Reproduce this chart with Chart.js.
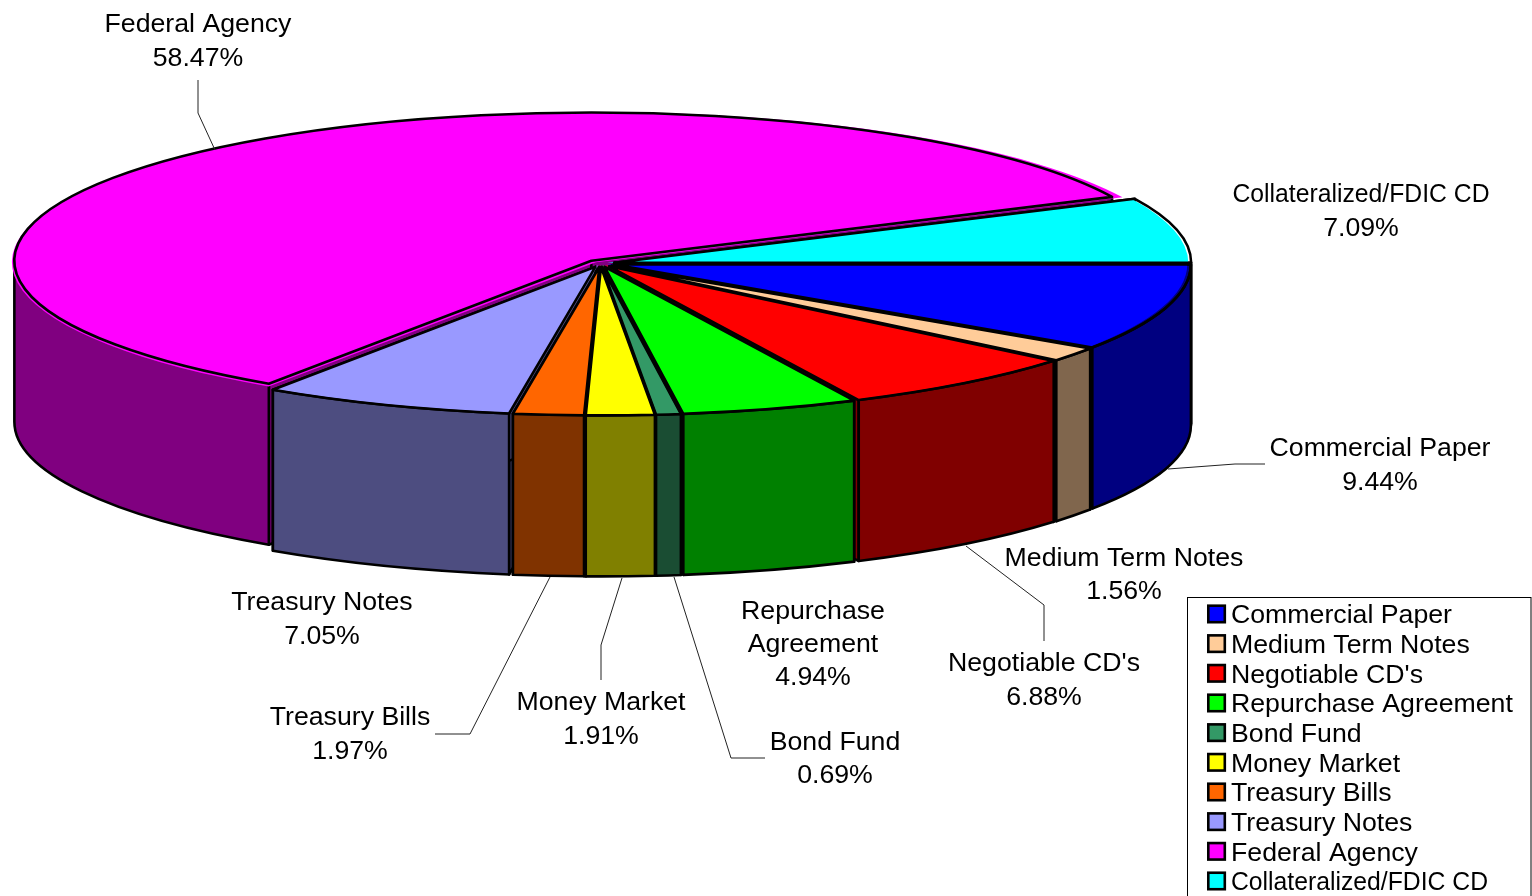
<!DOCTYPE html>
<html>
<head>
<meta charset="utf-8">
<style>html,body{margin:0;padding:0;background:#fff;overflow:hidden}canvas{display:block}</style>
<script src="https://cdn.jsdelivr.net/npm/chart.js@4/dist/chart.umd.min.js"></script>
</head>
<body>
<canvas id="c" width="1532" height="896"></canvas>
<script>
const categories = ["Commercial Paper","Medium Term Notes","Negotiable CD's","Repurchase Agreement","Bond Fund","Money Market","Treasury Bills","Treasury Notes","Federal Agency","Collateralized/FDIC CD"];
const shares = [9.44,1.56,6.88,4.94,0.69,1.91,1.97,7.05,58.47,7.09];
const topColors = ["#0000ff","#ffcc99","#ff0000","#00ff00","#339966","#ffff00","#ff6600","#9999ff","#ff00ff","#00ffff"];
const wallColors = ["#000080","#80664d","#800000","#008000","#1a4d33","#808000","#803300","#4d4d80","#800080","#008080"];

// Label block for each category: text lines, centre x, and y of each line.
const labelLines = [["Commercial Paper"],["Medium Term Notes"],["Negotiable CD's"],["Repurchase","Agreement"],["Bond Fund"],["Money Market"],["Treasury Bills"],["Treasury Notes"],["Federal Agency"],["Collateralized/FDIC CD"]];
const labelX = [1380,1124,1044,813,835,601,350,322,198,1361];
const labelY = [[447,481],[557,590],[662,696],[610,643,676],[741,774],[701,735],[716,750],[601,635],[23,57],[193,227]];
const leaders = [
  [[1168,469],[1235,464],[1265,464]],
  [[966,546],[1044,605],[1044,641]],
  [[674,577],[731,758],[765,758]],
  [[622,578],[601,645],[601,680]],
  [[550,577],[470,734],[435,734]],
  [[198,80],[198,113],[215,150]]
];

const SQUASH = 0.257, DEPTH = 161, EXPLODE = 14, RADIUS = 577;
const TEXT_FONT = '26.7px "Liberation Sans", Arial, sans-serif';
const TEXT_NUDGE = 2, LONG_LABEL_WIDTH = 257;

function geom(el){
  const mid = (el.startAngle + el.endAngle) / 2;
  return {
    x: el.x + Math.cos(mid) * EXPLODE,
    y: el.y + Math.sin(mid) * EXPLODE * SQUASH,
    a0: el.startAngle, a1: el.endAngle, r: el.outerRadius, mid
  };
}

const pie3d = {
  id: 'pie3d',
  beforeDatasetsDraw(chart){
    const ctx = chart.ctx, arcs = chart.getDatasetMeta(0).data;
    const order = arcs.map((el,i)=>i).sort((a,b)=>Math.sin(geom(arcs[a]).mid)-Math.sin(geom(arcs[b]).mid));
    ctx.save();
    ctx.strokeStyle = '#000'; ctx.lineWidth = 2.6; ctx.lineJoin = 'round';
    // cut faces
    order.forEach(i=>{
      const g = geom(arcs[i]);
      [g.a0,g.a1].forEach(a=>{
        const rx = g.x + Math.cos(a)*g.r, ry = g.y + Math.sin(a)*g.r*SQUASH;
        ctx.beginPath();
        ctx.moveTo(g.x,g.y); ctx.lineTo(rx,ry); ctx.lineTo(rx,ry+DEPTH); ctx.lineTo(g.x,g.y+DEPTH); ctx.closePath();
        ctx.fillStyle = wallColors[i]; ctx.fill(); ctx.stroke();
      });
    });
    // outer walls
    order.forEach(i=>{
      const g = geom(arcs[i]);
      const s = Math.max(g.a0,0), e = Math.min(g.a1,Math.PI);
      if (s >= e) return;
      ctx.beginPath();
      ctx.ellipse(g.x,g.y,g.r,g.r*SQUASH,0,s,e);
      ctx.ellipse(g.x,g.y+DEPTH,g.r,g.r*SQUASH,0,e,s,true);
      ctx.closePath();
      ctx.fillStyle = wallColors[i]; ctx.fill(); ctx.stroke();
    });
    ctx.restore();
    // the library's arcs are drawn flat-on inside this squashed frame
    const a = arcs[0];
    ctx.save();
    ctx.translate(a.x,a.y); ctx.scale(1,SQUASH); ctx.translate(-a.x,-a.y);
  },
  afterDatasetsDraw(chart){
    const ctx = chart.ctx, arcs = chart.getDatasetMeta(0).data;
    ctx.restore();
    ctx.save();
    ctx.strokeStyle = '#000'; ctx.lineWidth = 2.6; ctx.lineJoin = 'round';
    arcs.forEach(el=>{
      const g = geom(el);
      ctx.beginPath();
      ctx.moveTo(g.x,g.y);
      ctx.ellipse(g.x,g.y,g.r,g.r*SQUASH,0,g.a0,g.a1);
      ctx.closePath(); ctx.stroke();
    });
    // leader lines
    ctx.lineWidth = 1; ctx.strokeStyle = '#222'; ctx.lineJoin = 'miter';
    leaders.forEach(l=>{
      ctx.beginPath();
      l.forEach((p,i)=> i ? ctx.lineTo(p[0],p[1]) : ctx.moveTo(p[0],p[1]));
      ctx.stroke();
    });
    // data labels
    const fit = t => t === categories[9] ? LONG_LABEL_WIDTH : 1000;
    ctx.fillStyle = '#000'; ctx.font = TEXT_FONT; ctx.textAlign = 'center'; ctx.textBaseline = 'middle';
    categories.forEach((c,i)=>{
      const lines = labelLines[i].concat([shares[i].toFixed(2)+'%']);
      lines.forEach((t,j)=> ctx.fillText(t,labelX[i],labelY[i][j]+TEXT_NUDGE,fit(t)));
    });
    // legend
    ctx.strokeStyle = '#000'; ctx.lineWidth = 1;
    ctx.fillStyle = '#fff';
    ctx.fillRect(1187.5,597.5,343.5,300);
    ctx.strokeRect(1187.5,597.5,343.5,300);
    ctx.textAlign = 'left';
    categories.forEach((c,i)=>{
      const y = 614 + i*29.67;
      ctx.fillStyle = topColors[i];
      ctx.lineWidth = 2.6;
      ctx.fillRect(1208.3,y-8.3,16.5,16.5);
      ctx.strokeRect(1208.3,y-8.3,16.5,16.5);
      ctx.fillStyle = '#000';
      ctx.fillText(c,1231,y+TEXT_NUDGE,fit(c));
    });
    ctx.restore();
  }
};

new Chart(document.getElementById('c'),{
  type:'pie',
  data:{labels:categories,datasets:[{
    data:shares,
    backgroundColor:topColors,
    borderWidth:0,
    offset:EXPLODE*2,
    clip:false
  }]},
  options:{
    responsive:false,
    animation:false,
    rotation:90,
    radius:RADIUS,
    layout:{padding:{right:331,bottom:369}},
    events:[],
    plugins:{legend:{display:false},tooltip:{enabled:false},title:{display:false}}
  },
  plugins:[pie3d]
});
</script>
</body>
</html>
